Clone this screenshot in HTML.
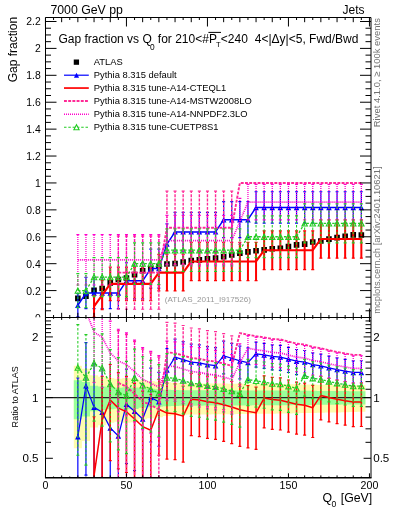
<!DOCTYPE html><html><head><meta charset="utf-8"><style>html,body{margin:0;padding:0;background:#fff;}svg{display:block;will-change:transform;} text{font-family:"Liberation Sans",sans-serif;}</style></head><body>
<svg width="393" height="512" viewBox="0 0 393 512">
<rect width="393" height="512" fill="#fff"/>
<defs><clipPath id="ct"><rect x="45.5" y="17.5" width="325.5" height="300"/></clipPath>
<clipPath id="cb"><rect x="45.5" y="317.5" width="325.5" height="160.3"/></clipPath></defs>
<g clip-path="url(#ct)">
<path d="M75.05 295.59h5.6v5.6h-5.6ZM83.15 293.31h5.6v5.6h-5.6ZM91.25 287.39h5.6v5.6h-5.6ZM99.35 285.77h5.6v5.6h-5.6ZM107.45 280.12h5.6v5.6h-5.6ZM115.55 276.76h5.6v5.6h-5.6ZM123.65 275.14h5.6v5.6h-5.6ZM131.75 271.78h5.6v5.6h-5.6ZM139.85 267.88h5.6v5.6h-5.6ZM147.95 265.86h5.6v5.6h-5.6ZM156.05 263.44h5.6v5.6h-5.6ZM164.15 261.15h5.6v5.6h-5.6ZM172.25 260.75h5.6v5.6h-5.6ZM180.35 259.27h5.6v5.6h-5.6ZM188.45 257.65h5.6v5.6h-5.6ZM196.55 257.11h5.6v5.6h-5.6ZM204.65 255.9h5.6v5.6h-5.6ZM212.75 255.23h5.6v5.6h-5.6ZM220.85 253.88h5.6v5.6h-5.6ZM228.95 252.27h5.6v5.6h-5.6ZM237.05 250.32h5.6v5.6h-5.6ZM245.15 249.08h5.6v5.6h-5.6ZM253.25 247.96h5.6v5.6h-5.6ZM261.35 247.06h5.6v5.6h-5.6ZM269.45 245.88h5.6v5.6h-5.6ZM277.55 245.43h5.6v5.6h-5.6ZM285.65 243.79h5.6v5.6h-5.6ZM293.75 242.1h5.6v5.6h-5.6ZM301.85 241.28h5.6v5.6h-5.6ZM309.95 239.22h5.6v5.6h-5.6ZM318.05 238.14h5.6v5.6h-5.6ZM326.15 236.32h5.6v5.6h-5.6ZM334.25 234.78h5.6v5.6h-5.6ZM342.35 233.43h5.6v5.6h-5.6ZM350.45 232.06h5.6v5.6h-5.6ZM358.55 232.14h5.6v5.6h-5.6Z" fill="#000"/>
<path d="M77.85 316.93V293.61M85.95 308.68V277.39M94.05 308.68V277.39M102.15 308.68V277.39M110.25 308.68V277.39M118.35 308.68V277.39M126.45 298.87V262.74M134.55 298.87V262.74M142.65 298.87V262.74M150.75 288.09V249.06M158.85 288.09V249.06M166.95 264.31V223.91M175.05 251.39V212.36M183.15 251.39V212.36M191.25 251.39V212.36M199.35 251.39V212.36M207.45 251.39V212.36M215.55 251.39V212.36M223.65 237.71V201.58M231.75 237.71V201.58M239.85 237.71V201.58M247.95 237.71V201.58M256.05 223.06V191.77M264.15 223.06V191.77M272.25 223.06V191.77M280.35 223.06V191.77M288.45 223.06V191.77M296.55 223.06V191.77M304.65 223.06V191.77M312.75 223.06V191.77M320.85 223.06V191.77M328.95 223.06V191.77M337.05 223.06V191.77M345.15 223.06V191.77M353.25 223.06V191.77M361.35 223.06V191.77" stroke="#0000ff" stroke-width="1.2" fill="none"/>
<path d="M76.35 316.93H79.35M76.35 293.61H79.35M84.45 308.68H87.45M84.45 277.39H87.45M92.55 308.68H95.55M92.55 277.39H95.55M100.65 308.68H103.65M100.65 277.39H103.65M108.75 308.68H111.75M108.75 277.39H111.75M116.85 308.68H119.85M116.85 277.39H119.85M124.95 298.87H127.95M124.95 262.74H127.95M133.05 298.87H136.05M133.05 262.74H136.05M141.15 298.87H144.15M141.15 262.74H144.15M149.25 288.09H152.25M149.25 249.06H152.25M157.35 288.09H160.35M157.35 249.06H160.35M165.45 264.31H168.45M165.45 223.91H168.45M173.55 251.39H176.55M173.55 212.36H176.55M181.65 251.39H184.65M181.65 212.36H184.65M189.75 251.39H192.75M189.75 212.36H192.75M197.85 251.39H200.85M197.85 212.36H200.85M205.95 251.39H208.95M205.95 212.36H208.95M214.05 251.39H217.05M214.05 212.36H217.05M222.15 237.71H225.15M222.15 201.58H225.15M230.25 237.71H233.25M230.25 201.58H233.25M238.35 237.71H241.35M238.35 201.58H241.35M246.45 237.71H249.45M246.45 201.58H249.45M254.55 223.06H257.55M254.55 191.77H257.55M262.65 223.06H265.65M262.65 191.77H265.65M270.75 223.06H273.75M270.75 191.77H273.75M278.85 223.06H281.85M278.85 191.77H281.85M286.95 223.06H289.95M286.95 191.77H289.95M295.05 223.06H298.05M295.05 191.77H298.05M303.15 223.06H306.15M303.15 191.77H306.15M311.25 223.06H314.25M311.25 191.77H314.25M319.35 223.06H322.35M319.35 191.77H322.35M327.45 223.06H330.45M327.45 191.77H330.45M335.55 223.06H338.55M335.55 191.77H338.55M343.65 223.06H346.65M343.65 191.77H346.65M351.75 223.06H354.75M351.75 191.77H354.75M359.85 223.06H362.85M359.85 191.77H362.85" stroke="#0000ff" stroke-width="1.2" fill="none"/>
<path d="M77.85 305.27L85.95 293.04L94.05 293.04L102.15 293.04L110.25 293.04L118.35 293.04L126.45 280.8L134.55 280.8L142.65 280.8L150.75 268.57L158.85 268.57L166.95 244.11L175.05 231.88L183.15 231.88L191.25 231.88L199.35 231.88L207.45 231.88L215.55 231.88L223.65 219.65L231.75 219.65L239.85 219.65L247.95 219.65L256.05 207.41L264.15 207.41L272.25 207.41L280.35 207.41L288.45 207.41L296.55 207.41L304.65 207.41L312.75 207.41L320.85 207.41L328.95 207.41L337.05 207.41L345.15 207.41L353.25 207.41L361.35 207.41" stroke="#0000ff" stroke-width="1.5" fill="none" stroke-linejoin="round"/>
<path d="M75.05 308L80.65 308L77.85 302.54ZM83.15 295.77L88.75 295.77L85.95 290.31ZM91.25 295.77L96.85 295.77L94.05 290.31ZM99.35 295.77L104.95 295.77L102.15 290.31ZM107.45 295.77L113.05 295.77L110.25 290.31ZM115.55 295.77L121.15 295.77L118.35 290.31ZM123.65 283.53L129.25 283.53L126.45 278.07ZM131.75 283.53L137.35 283.53L134.55 278.07ZM139.85 283.53L145.45 283.53L142.65 278.07ZM147.95 271.3L153.55 271.3L150.75 265.84ZM156.05 271.3L161.65 271.3L158.85 265.84ZM164.15 246.84L169.75 246.84L166.95 241.38ZM172.25 234.61L177.85 234.61L175.05 229.15ZM180.35 234.61L185.95 234.61L183.15 229.15ZM188.45 234.61L194.05 234.61L191.25 229.15ZM196.55 234.61L202.15 234.61L199.35 229.15ZM204.65 234.61L210.25 234.61L207.45 229.15ZM212.75 234.61L218.35 234.61L215.55 229.15ZM220.85 222.38L226.45 222.38L223.65 216.92ZM228.95 222.38L234.55 222.38L231.75 216.92ZM237.05 222.38L242.65 222.38L239.85 216.92ZM245.15 222.38L250.75 222.38L247.95 216.92ZM253.25 210.14L258.85 210.14L256.05 204.68ZM261.35 210.14L266.95 210.14L264.15 204.68ZM269.45 210.14L275.05 210.14L272.25 204.68ZM277.55 210.14L283.15 210.14L280.35 204.68ZM285.65 210.14L291.25 210.14L288.45 204.68ZM293.75 210.14L299.35 210.14L296.55 204.68ZM301.85 210.14L307.45 210.14L304.65 204.68ZM309.95 210.14L315.55 210.14L312.75 204.68ZM318.05 210.14L323.65 210.14L320.85 204.68ZM326.15 210.14L331.75 210.14L328.95 204.68ZM334.25 210.14L339.85 210.14L337.05 204.68ZM342.35 210.14L347.95 210.14L345.15 204.68ZM350.45 210.14L356.05 210.14L353.25 204.68ZM358.55 210.14L364.15 210.14L361.35 204.68Z" fill="#0000ff"/>
<path d="M94.05 317.02V295.55M102.15 309.55V280.6M110.25 300.68V267.04M118.35 300.68V267.04M126.45 300.68V267.04M134.55 300.68V267.04M142.65 300.68V267.04M150.75 300.68V267.04M158.85 290.96V254.34M166.95 290.96V254.34M175.05 290.96V254.34M183.15 290.96V254.34M191.25 280.59V242.29M199.35 280.59V242.29M207.45 280.59V242.29M215.55 280.59V242.29M223.65 280.59V242.29M231.75 280.59V242.29M239.85 280.59V242.29M247.95 280.59V242.29M256.05 280.59V242.29M264.15 269.65V230.8M272.25 269.65V230.8M280.35 269.65V230.8M288.45 269.65V230.8M296.55 269.65V230.8M304.65 269.65V230.8M312.75 269.65V230.8M320.85 258.16V219.86M328.95 258.16V219.86M337.05 258.16V219.86M345.15 258.16V219.86M353.25 258.16V219.86M361.35 258.16V219.86" stroke="#ff0000" stroke-width="2.0" fill="none"/>
<path d="M92.55 317.02H95.55M92.55 295.55H95.55M100.65 309.55H103.65M100.65 280.6H103.65M108.75 300.68H111.75M108.75 267.04H111.75M116.85 300.68H119.85M116.85 267.04H119.85M124.95 300.68H127.95M124.95 267.04H127.95M133.05 300.68H136.05M133.05 267.04H136.05M141.15 300.68H144.15M141.15 267.04H144.15M149.25 300.68H152.25M149.25 267.04H152.25M157.35 290.96H160.35M157.35 254.34H160.35M165.45 290.96H168.45M165.45 254.34H168.45M173.55 290.96H176.55M173.55 254.34H176.55M181.65 290.96H184.65M181.65 254.34H184.65M189.75 280.59H192.75M189.75 242.29H192.75M197.85 280.59H200.85M197.85 242.29H200.85M205.95 280.59H208.95M205.95 242.29H208.95M214.05 280.59H217.05M214.05 242.29H217.05M222.15 280.59H225.15M222.15 242.29H225.15M230.25 280.59H233.25M230.25 242.29H233.25M238.35 280.59H241.35M238.35 242.29H241.35M246.45 280.59H249.45M246.45 242.29H249.45M254.55 280.59H257.55M254.55 242.29H257.55M262.65 269.65H265.65M262.65 230.8H265.65M270.75 269.65H273.75M270.75 230.8H273.75M278.85 269.65H281.85M278.85 230.8H281.85M286.95 269.65H289.95M286.95 230.8H289.95M295.05 269.65H298.05M295.05 230.8H298.05M303.15 269.65H306.15M303.15 230.8H306.15M311.25 269.65H314.25M311.25 230.8H314.25M319.35 258.16H322.35M319.35 219.86H322.35M327.45 258.16H330.45M327.45 219.86H330.45M335.55 258.16H338.55M335.55 219.86H338.55M343.65 258.16H346.65M343.65 219.86H346.65M351.75 258.16H354.75M351.75 219.86H354.75M359.85 258.16H362.85M359.85 219.86H362.85" stroke="#ff0000" stroke-width="1.2" fill="none"/>
<path d="M94.05 306.29L102.15 295.07L110.25 283.86L118.35 283.86L126.45 283.86L134.55 283.86L142.65 283.86L150.75 283.86L158.85 272.65L166.95 272.65L175.05 272.65L183.15 272.65L191.25 261.44L199.35 261.44L207.45 261.44L215.55 261.44L223.65 261.44L231.75 261.44L239.85 261.44L247.95 261.44L256.05 261.44L264.15 250.22L272.25 250.22L280.35 250.22L288.45 250.22L296.55 250.22L304.65 250.22L312.75 250.22L320.85 239.01L328.95 239.01L337.05 239.01L345.15 239.01L353.25 239.01L361.35 239.01" stroke="#ff0000" stroke-width="2.1" fill="none" stroke-linejoin="round"/>
<path d="M118.35 309.27V236.03M126.45 309.27V236.03M134.55 309.27V236.03M142.65 309.27V236.03M150.75 309.27V236.03M158.85 309.27V236.03M166.95 264.42V191.18M175.05 264.42V191.18M183.15 264.42V191.18M191.25 264.42V191.18M199.35 264.42V191.18M207.45 264.42V191.18M215.55 264.42V191.18M223.65 264.42V191.18M231.75 264.42V191.18" stroke="#ff2a96" stroke-width="1.4" fill="none" stroke-dasharray="2.9,1.3"/>
<path d="M116.85 309.27H119.85M116.85 236.03H119.85M124.95 309.27H127.95M124.95 236.03H127.95M133.05 309.27H136.05M133.05 236.03H136.05M141.15 309.27H144.15M141.15 236.03H144.15M149.25 309.27H152.25M149.25 236.03H152.25M157.35 309.27H160.35M157.35 236.03H160.35M165.45 264.42H168.45M165.45 191.18H168.45M173.55 264.42H176.55M173.55 191.18H176.55M181.65 264.42H184.65M181.65 191.18H184.65M189.75 264.42H192.75M189.75 191.18H192.75M197.85 264.42H200.85M197.85 191.18H200.85M205.95 264.42H208.95M205.95 191.18H208.95M214.05 264.42H217.05M214.05 191.18H217.05M222.15 264.42H225.15M222.15 191.18H225.15M230.25 264.42H233.25M230.25 191.18H233.25" stroke="#ff2a96" stroke-width="1.2" fill="none"/>
<path d="M118.35 272.65L126.45 272.65L134.55 272.65L142.65 272.65L150.75 272.65L158.85 272.65L166.95 227.8L175.05 227.8L183.15 227.8L191.25 227.8L199.35 227.8L207.45 227.8L215.55 227.8L223.65 227.8L231.75 227.8L239.85 182.95L247.95 182.95L256.05 182.95L264.15 182.95L272.25 182.95L280.35 182.95L288.45 182.95L296.55 182.95L304.65 182.95L312.75 182.95L320.85 182.95L328.95 182.95L337.05 182.95L345.15 182.95L353.25 182.95L361.35 182.95" stroke="#ff2a96" stroke-width="1.9" fill="none" stroke-linejoin="round" stroke-dasharray="2.9,1.3"/>
<path d="M77.85 235V285M85.95 235V285M94.05 235V285M102.15 235V285M110.25 235V285M118.35 235V285M126.45 235V285M134.55 235V285M142.65 235V285M150.75 235V285M158.85 235V285M166.95 215V265.78M175.05 215V265.78M183.15 215V265.78M191.25 215V265.78M199.35 215V265.78M207.45 215V265.78M215.55 215V265.78M223.65 215V265.78M231.75 215V265.78M239.85 198V244.37M247.95 184V219.97M256.05 184V219.97M264.15 184V219.97M272.25 184V219.97M280.35 184V219.97M288.45 184V219.97M296.55 184V219.97M304.65 184V219.97M312.75 184V219.97M320.85 184V219.97M328.95 184V219.97M337.05 184V219.97M345.15 184V219.97M353.25 184V219.97M361.35 184V219.97" stroke="#ff00cc" stroke-width="1.3" fill="none" stroke-dasharray="1,1"/>
<path d="M76.35 285H79.35M76.35 234.67H79.35M84.45 285H87.45M84.45 234.67H87.45M92.55 285H95.55M92.55 234.67H95.55M100.65 285H103.65M100.65 234.67H103.65M108.75 285H111.75M108.75 234.67H111.75M116.85 285H119.85M116.85 234.67H119.85M124.95 285H127.95M124.95 234.67H127.95M133.05 285H136.05M133.05 234.67H136.05M141.15 285H144.15M141.15 234.67H144.15M149.25 285H152.25M149.25 234.67H152.25M157.35 285H160.35M157.35 234.67H160.35M165.45 265.78H168.45M165.45 215.45H168.45M173.55 265.78H176.55M173.55 215.45H176.55M181.65 265.78H184.65M181.65 215.45H184.65M189.75 265.78H192.75M189.75 215.45H192.75M197.85 265.78H200.85M197.85 215.45H200.85M205.95 265.78H208.95M205.95 215.45H208.95M214.05 265.78H217.05M214.05 215.45H217.05M222.15 265.78H225.15M222.15 215.45H225.15M230.25 265.78H233.25M230.25 215.45H233.25M238.35 244.37H241.35M238.35 198.42H241.35M246.45 219.97H249.45M246.45 184.38H249.45M254.55 219.97H257.55M254.55 184.38H257.55M262.65 219.97H265.65M262.65 184.38H265.65M270.75 219.97H273.75M270.75 184.38H273.75M278.85 219.97H281.85M278.85 184.38H281.85M286.95 219.97H289.95M286.95 184.38H289.95M295.05 219.97H298.05M295.05 184.38H298.05M303.15 219.97H306.15M303.15 184.38H306.15M311.25 219.97H314.25M311.25 184.38H314.25M319.35 219.97H322.35M319.35 184.38H322.35M327.45 219.97H330.45M327.45 184.38H330.45M335.55 219.97H338.55M335.55 184.38H338.55M343.65 219.97H346.65M343.65 184.38H346.65M351.75 219.97H354.75M351.75 184.38H354.75M359.85 219.97H362.85M359.85 184.38H362.85" stroke="#ff00cc" stroke-width="1.2" fill="none"/>
<path d="M77.85 259.84L85.95 259.84L94.05 259.84L102.15 259.84L110.25 259.84L118.35 259.84L126.45 259.84L134.55 259.84L142.65 259.84L150.75 259.84L158.85 259.84L166.95 240.61L175.05 240.61L183.15 240.61L191.25 240.61L199.35 240.61L207.45 240.61L215.55 240.61L223.65 240.61L231.75 240.61L239.85 221.39L247.95 202.17L256.05 202.17L264.15 202.17L272.25 202.17L280.35 202.17L288.45 202.17L296.55 202.17L304.65 202.17L312.75 202.17L320.85 202.17L328.95 202.17L337.05 202.17L345.15 202.17L353.25 202.17L361.35 202.17" stroke="#ff00cc" stroke-width="1.7" fill="none" stroke-linejoin="round" stroke-dasharray="1,1"/>
<path d="M77.85 307.61V273.57M85.95 307.61V273.57M94.05 296.63V257.64M102.15 296.63V257.64M110.25 296.63V257.64M118.35 296.63V257.64M126.45 296.63V257.64M134.55 284.52V242.84M142.65 284.52V242.84M150.75 284.52V242.84M158.85 284.52V242.84M166.95 271.5V228.95M175.05 271.5V228.95M183.15 271.5V228.95M191.25 271.5V228.95M199.35 271.5V228.95M207.45 271.5V228.95M215.55 271.5V228.95M223.65 271.5V228.95M231.75 271.5V228.95M239.85 271.5V228.95M247.95 257.61V215.93M256.05 257.61V215.93M264.15 257.61V215.93M272.25 257.61V215.93M280.35 257.61V215.93M288.45 257.61V215.93M296.55 257.61V215.93M304.65 242.81V203.82M312.75 242.81V203.82M320.85 242.81V203.82M328.95 242.81V203.82M337.05 242.81V203.82M345.15 242.81V203.82M353.25 242.81V203.82M361.35 242.81V203.82" stroke="#22cc22" stroke-width="1.05" fill="none" stroke-dasharray="2.5,1.8"/>
<path d="M76.35 307.61H79.35M76.35 273.57H79.35M84.45 307.61H87.45M84.45 273.57H87.45M92.55 296.63H95.55M92.55 257.64H95.55M100.65 296.63H103.65M100.65 257.64H103.65M108.75 296.63H111.75M108.75 257.64H111.75M116.85 296.63H119.85M116.85 257.64H119.85M124.95 296.63H127.95M124.95 257.64H127.95M133.05 284.52H136.05M133.05 242.84H136.05M141.15 284.52H144.15M141.15 242.84H144.15M149.25 284.52H152.25M149.25 242.84H152.25M157.35 284.52H160.35M157.35 242.84H160.35M165.45 271.5H168.45M165.45 228.95H168.45M173.55 271.5H176.55M173.55 228.95H176.55M181.65 271.5H184.65M181.65 228.95H184.65M189.75 271.5H192.75M189.75 228.95H192.75M197.85 271.5H200.85M197.85 228.95H200.85M205.95 271.5H208.95M205.95 228.95H208.95M214.05 271.5H217.05M214.05 228.95H217.05M222.15 271.5H225.15M222.15 228.95H225.15M230.25 271.5H233.25M230.25 228.95H233.25M238.35 271.5H241.35M238.35 228.95H241.35M246.45 257.61H249.45M246.45 215.93H249.45M254.55 257.61H257.55M254.55 215.93H257.55M262.65 257.61H265.65M262.65 215.93H265.65M270.75 257.61H273.75M270.75 215.93H273.75M278.85 257.61H281.85M278.85 215.93H281.85M286.95 257.61H289.95M286.95 215.93H289.95M295.05 257.61H298.05M295.05 215.93H298.05M303.15 242.81H306.15M303.15 203.82H306.15M311.25 242.81H314.25M311.25 203.82H314.25M319.35 242.81H322.35M319.35 203.82H322.35M327.45 242.81H330.45M327.45 203.82H330.45M335.55 242.81H338.55M335.55 203.82H338.55M343.65 242.81H346.65M343.65 203.82H346.65M351.75 242.81H354.75M351.75 203.82H354.75M359.85 242.81H362.85M359.85 203.82H362.85" stroke="#22cc22" stroke-width="1.2" fill="none"/>
<path d="M77.85 290.59L85.95 290.59L94.05 277.13L102.15 277.13L110.25 277.13L118.35 277.13L126.45 277.13L134.55 263.68L142.65 263.68L150.75 263.68L158.85 263.68L166.95 250.22L175.05 250.22L183.15 250.22L191.25 250.22L199.35 250.22L207.45 250.22L215.55 250.22L223.65 250.22L231.75 250.22L239.85 250.22L247.95 236.77L256.05 236.77L264.15 236.77L272.25 236.77L280.35 236.77L288.45 236.77L296.55 236.77L304.65 223.31L312.75 223.31L320.85 223.31L328.95 223.31L337.05 223.31L345.15 223.31L353.25 223.31L361.35 223.31" stroke="#22cc22" stroke-width="1.3" fill="none" stroke-linejoin="round" stroke-dasharray="2.5,1.8"/>
<path d="M75.15 293.22L80.55 293.22L77.85 287.96ZM83.25 293.22L88.65 293.22L85.95 287.96ZM91.35 279.77L96.75 279.77L94.05 274.5ZM99.45 279.77L104.85 279.77L102.15 274.5ZM107.55 279.77L112.95 279.77L110.25 274.5ZM115.65 279.77L121.05 279.77L118.35 274.5ZM123.75 279.77L129.15 279.77L126.45 274.5ZM131.85 266.31L137.25 266.31L134.55 261.05ZM139.95 266.31L145.35 266.31L142.65 261.05ZM148.05 266.31L153.45 266.31L150.75 261.05ZM156.15 266.31L161.55 266.31L158.85 261.05ZM164.25 252.86L169.65 252.86L166.95 247.59ZM172.35 252.86L177.75 252.86L175.05 247.59ZM180.45 252.86L185.85 252.86L183.15 247.59ZM188.55 252.86L193.95 252.86L191.25 247.59ZM196.65 252.86L202.05 252.86L199.35 247.59ZM204.75 252.86L210.15 252.86L207.45 247.59ZM212.85 252.86L218.25 252.86L215.55 247.59ZM220.95 252.86L226.35 252.86L223.65 247.59ZM229.05 252.86L234.45 252.86L231.75 247.59ZM237.15 252.86L242.55 252.86L239.85 247.59ZM245.25 239.4L250.65 239.4L247.95 234.14ZM253.35 239.4L258.75 239.4L256.05 234.14ZM261.45 239.4L266.85 239.4L264.15 234.14ZM269.55 239.4L274.95 239.4L272.25 234.14ZM277.65 239.4L283.05 239.4L280.35 234.14ZM285.75 239.4L291.15 239.4L288.45 234.14ZM293.85 239.4L299.25 239.4L296.55 234.14ZM301.95 225.95L307.35 225.95L304.65 220.68ZM310.05 225.95L315.45 225.95L312.75 220.68ZM318.15 225.95L323.55 225.95L320.85 220.68ZM326.25 225.95L331.65 225.95L328.95 220.68ZM334.35 225.95L339.75 225.95L337.05 220.68ZM342.45 225.95L347.85 225.95L345.15 220.68ZM350.55 225.95L355.95 225.95L353.25 220.68ZM358.65 225.95L364.05 225.95L361.35 220.68Z" fill="none" stroke="#22cc22" stroke-width="1.1"/>
</g>
<text x="40.7" y="321.5" font-size="10.4" text-anchor="end" fill="#000">0</text>
<text x="40.7" y="294.59" font-size="10.4" text-anchor="end" fill="#000">0.2</text>
<text x="40.7" y="267.68" font-size="10.4" text-anchor="end" fill="#000">0.4</text>
<text x="40.7" y="240.77" font-size="10.4" text-anchor="end" fill="#000">0.6</text>
<text x="40.7" y="213.86" font-size="10.4" text-anchor="end" fill="#000">0.8</text>
<text x="40.7" y="186.95" font-size="10.4" text-anchor="end" fill="#000">1</text>
<text x="40.7" y="160.04" font-size="10.4" text-anchor="end" fill="#000">1.2</text>
<text x="40.7" y="133.13" font-size="10.4" text-anchor="end" fill="#000">1.4</text>
<text x="40.7" y="106.22" font-size="10.4" text-anchor="end" fill="#000">1.6</text>
<text x="40.7" y="79.31" font-size="10.4" text-anchor="end" fill="#000">1.8</text>
<text x="40.7" y="52.4" font-size="10.4" text-anchor="end" fill="#000">2</text>
<text x="40.7" y="25.49" font-size="10.4" text-anchor="end" fill="#000">2.2</text>
<rect x="0" y="317.3" width="393" height="195" fill="#fff"/>
<g clip-path="url(#cb)">
<path d="M73.8 365.67L73.8 365.67L81.9 365.67L81.9 368.77L90 368.77L90 375.31L98.1 375.31L98.1 376.67L106.2 376.67L106.2 378.06L114.3 378.06L114.3 378.77L122.4 378.77L122.4 378.06L130.5 378.06L130.5 378.41L138.6 378.41L138.6 380.19L146.7 380.19L146.7 380.91L154.8 380.91L154.8 381.64L162.9 381.64L162.9 382.37L171 382.37L171 382.85L179.1 382.85L179.1 383.33L187.2 383.33L187.2 383.38L195.3 383.38L195.3 383.43L203.4 383.43L203.4 383.48L211.5 383.48L211.5 383.55L219.6 383.55L219.6 383.61L227.7 383.61L227.7 383.68L235.8 383.68L235.8 383.75L243.9 383.75L243.9 383.82L252 383.82L252 383.88L260.1 383.88L260.1 383.95L268.2 383.95L268.2 384.02L276.3 384.02L276.3 384.09L284.4 384.09L284.4 384.15L292.5 384.15L292.5 384.29L300.6 384.29L300.6 384.42L308.7 384.42L308.7 384.55L316.8 384.55L316.8 384.69L324.9 384.69L324.9 384.82L333 384.82L333 384.96L341.1 384.96L341.1 385.09L349.2 385.09L349.2 385.23L357.3 385.23L357.3 385.36L365.4 385.36L365.4 411.83L357.3 411.83L357.3 412.01L349.2 412.01L349.2 412.2L341.1 412.2L341.1 412.38L333 412.38L333 412.56L324.9 412.56L324.9 412.75L316.8 412.75L316.8 412.93L308.7 412.93L308.7 413.12L300.6 413.12L300.6 413.31L292.5 413.31L292.5 413.49L284.4 413.49L284.4 413.59L276.3 413.59L276.3 413.68L268.2 413.68L268.2 413.78L260.1 413.78L260.1 413.87L252 413.87L252 413.97L243.9 413.97L243.9 414.06L235.8 414.06L235.8 414.16L227.7 414.16L227.7 414.25L219.6 414.25L219.6 414.35L211.5 414.35L211.5 414.44L203.4 414.44L203.4 414.51L195.3 414.51L195.3 414.58L187.2 414.58L187.2 414.66L179.1 414.66L179.1 415.35L171 415.35L171 416.05L162.9 416.05L162.9 417.14L154.8 417.14L154.8 418.24L146.7 418.24L146.7 419.35L138.6 419.35L138.6 422.21L130.5 422.21L130.5 422.79L122.4 422.79L122.4 421.63L114.3 421.63L114.3 422.79L106.2 422.79L106.2 425.15L98.1 425.15L98.1 427.59L90 427.59L90 440.88L81.9 440.88L81.9 448.37L73.8 448.37Z" fill="#fdfcae" stroke="none"/>
<path d="M73.8 380.19L73.8 380.19L81.9 380.19L81.9 382L90 382L90 385.74L98.1 385.74L98.1 386.51L106.2 386.51L106.2 387.29L114.3 387.29L114.3 387.68L122.4 387.68L122.4 387.29L130.5 387.29L130.5 387.48L138.6 387.48L138.6 388.46L146.7 388.46L146.7 388.86L154.8 388.86L154.8 389.26L162.9 389.26L162.9 389.65L171 389.65L171 389.91L179.1 389.91L179.1 390.18L187.2 390.18L187.2 390.2L195.3 390.2L195.3 390.23L203.4 390.23L203.4 390.26L211.5 390.26L211.5 390.29L219.6 390.29L219.6 390.33L227.7 390.33L227.7 390.36L235.8 390.36L235.8 390.4L243.9 390.4L243.9 390.44L252 390.44L252 390.47L260.1 390.47L260.1 390.51L268.2 390.51L268.2 390.55L276.3 390.55L276.3 390.58L284.4 390.58L284.4 390.62L292.5 390.62L292.5 390.69L300.6 390.69L300.6 390.76L308.7 390.76L308.7 390.83L316.8 390.83L316.8 390.91L324.9 390.91L324.9 390.98L333 390.98L333 391.05L341.1 391.05L341.1 391.12L349.2 391.12L349.2 391.2L357.3 391.2L357.3 391.27L365.4 391.27L365.4 404.43L357.3 404.43L357.3 404.51L349.2 404.51L349.2 404.59L341.1 404.59L341.1 404.68L333 404.68L333 404.76L324.9 404.76L324.9 404.85L316.8 404.85L316.8 404.93L308.7 404.93L308.7 405.02L300.6 405.02L300.6 405.1L292.5 405.1L292.5 405.19L284.4 405.19L284.4 405.23L276.3 405.23L276.3 405.27L268.2 405.27L268.2 405.32L260.1 405.32L260.1 405.36L252 405.36L252 405.4L243.9 405.4L243.9 405.44L235.8 405.44L235.8 405.49L227.7 405.49L227.7 405.53L219.6 405.53L219.6 405.57L211.5 405.57L211.5 405.62L203.4 405.62L203.4 405.65L195.3 405.65L195.3 405.68L187.2 405.68L187.2 405.71L179.1 405.71L179.1 406.03L171 406.03L171 406.34L162.9 406.34L162.9 406.82L154.8 406.82L154.8 407.31L146.7 407.31L146.7 407.8L138.6 407.8L138.6 409.04L130.5 409.04L130.5 409.29L122.4 409.29L122.4 408.79L114.3 408.79L114.3 409.29L106.2 409.29L106.2 410.3L98.1 410.3L98.1 411.32L90 411.32L90 416.59L81.9 416.59L81.9 419.35L73.8 419.35Z" fill="#99ff99" stroke="none"/>
<path d="M45.5 397.6H371" stroke="#222" stroke-width="1.2"/>
<path d="M77.85 705.22V378.02M85.95 475.21V342.57M94.05 496.6V363.96M102.15 501.63V368.99M110.25 517.25V384.61M118.35 525.38V392.74M126.45 463.54V369.12M134.55 470.68V376.27M142.65 478.3V383.89M150.75 442.01V368.06M158.85 446.24V372.3M166.95 398.19V348.72M175.05 379.81V339.19M183.15 382.18V341.56M191.25 384.7V344.07M199.35 385.52V344.9M207.45 387.34V346.72M215.55 388.34V347.71M223.65 373.83V341.12M231.75 376.12V343.42M239.85 378.82V346.11M247.95 380.49V347.78M256.05 367.2V342.14M264.15 368.38V343.32M272.25 369.9V344.84M280.35 370.46V345.4M288.45 372.51V347.45M296.55 374.58V349.52M304.65 375.56V350.5M312.75 377.98V352.92M320.85 379.22V354.16M328.95 381.28V356.22M337.05 382.99V357.93M345.15 384.45V359.39M353.25 385.92V360.86M361.35 385.83V360.77" stroke="#0000ff" stroke-width="1.2" fill="none"/>
<path d="M76.35 705.22H79.35M76.35 378.02H79.35M84.45 475.21H87.45M84.45 342.57H87.45M92.55 496.6H95.55M92.55 363.96H95.55M100.65 501.63H103.65M100.65 368.99H103.65M108.75 517.25H111.75M108.75 384.61H111.75M116.85 525.38H119.85M116.85 392.74H119.85M124.95 463.54H127.95M124.95 369.12H127.95M133.05 470.68H136.05M133.05 376.27H136.05M141.15 478.3H144.15M141.15 383.89H144.15M149.25 442.01H152.25M149.25 368.06H152.25M157.35 446.24H160.35M157.35 372.3H160.35M165.45 398.19H168.45M165.45 348.72H168.45M173.55 379.81H176.55M173.55 339.19H176.55M181.65 382.18H184.65M181.65 341.56H184.65M189.75 384.7H192.75M189.75 344.07H192.75M197.85 385.52H200.85M197.85 344.9H200.85M205.95 387.34H208.95M205.95 346.72H208.95M214.05 388.34H217.05M214.05 347.71H217.05M222.15 373.83H225.15M222.15 341.12H225.15M230.25 376.12H233.25M230.25 343.42H233.25M238.35 378.82H241.35M238.35 346.11H241.35M246.45 380.49H249.45M246.45 347.78H249.45M254.55 367.2H257.55M254.55 342.14H257.55M262.65 368.38H265.65M262.65 343.32H265.65M270.75 369.9H273.75M270.75 344.84H273.75M278.85 370.46H281.85M278.85 345.4H281.85M286.95 372.51H289.95M286.95 347.45H289.95M295.05 374.58H298.05M295.05 349.52H298.05M303.15 375.56H306.15M303.15 350.5H306.15M311.25 377.98H314.25M311.25 352.92H314.25M319.35 379.22H322.35M319.35 354.16H322.35M327.45 381.28H330.45M327.45 356.22H330.45M335.55 382.99H338.55M335.55 357.93H338.55M343.65 384.45H346.65M343.65 359.39H346.65M351.75 385.92H354.75M351.75 360.86H354.75M359.85 385.83H362.85M359.85 360.77H362.85" stroke="#0000ff" stroke-width="1.2" fill="none"/>
<path d="M77.85 436.65L85.95 385.86L94.05 407.25L102.15 412.28L110.25 427.9L118.35 436.03L126.45 404.18L134.55 411.32L142.65 418.94L150.75 397.45L158.85 401.68L166.95 370.01L175.05 357.17L183.15 359.54L191.25 362.05L199.35 362.87L207.45 364.69L215.55 365.69L223.65 355.96L231.75 358.25L239.85 360.95L247.95 362.61L256.05 353.78L264.15 354.95L272.25 356.47L280.35 357.04L288.45 359.09L296.55 361.16L304.65 362.14L312.75 364.56L320.85 365.8L328.95 367.85L337.05 369.56L345.15 371.03L353.25 372.49L361.35 372.41" stroke="#0000ff" stroke-width="1.25" fill="none" stroke-linejoin="round"/>
<path d="M75.05 439.38L80.65 439.38L77.85 433.92ZM83.15 388.59L88.75 388.59L85.95 383.13ZM91.25 409.98L96.85 409.98L94.05 404.52ZM99.35 415.01L104.95 415.01L102.15 409.55ZM107.45 430.63L113.05 430.63L110.25 425.17ZM115.55 438.76L121.15 438.76L118.35 433.3ZM123.65 406.91L129.25 406.91L126.45 401.45ZM131.75 414.05L137.35 414.05L134.55 408.59ZM139.85 421.67L145.45 421.67L142.65 416.21ZM147.95 400.18L153.55 400.18L150.75 394.72ZM156.05 404.41L161.65 404.41L158.85 398.95ZM164.15 372.74L169.75 372.74L166.95 367.28ZM172.25 359.9L177.85 359.9L175.05 354.44ZM180.35 362.27L185.95 362.27L183.15 356.81ZM188.45 364.78L194.05 364.78L191.25 359.32ZM196.55 365.6L202.15 365.6L199.35 360.14ZM204.65 367.42L210.25 367.42L207.45 361.96ZM212.75 368.42L218.35 368.42L215.55 362.96ZM220.85 358.69L226.45 358.69L223.65 353.23ZM228.95 360.98L234.55 360.98L231.75 355.52ZM237.05 363.68L242.65 363.68L239.85 358.22ZM245.15 365.34L250.75 365.34L247.95 359.88ZM253.25 356.51L258.85 356.51L256.05 351.05ZM261.35 357.68L266.95 357.68L264.15 352.22ZM269.45 359.2L275.05 359.2L272.25 353.74ZM277.55 359.77L283.15 359.77L280.35 354.31ZM285.65 361.82L291.25 361.82L288.45 356.36ZM293.75 363.89L299.35 363.89L296.55 358.43ZM301.85 364.87L307.45 364.87L304.65 359.41ZM309.95 367.29L315.55 367.29L312.75 361.83ZM318.05 368.53L323.65 368.53L320.85 363.07ZM326.15 370.58L331.75 370.58L328.95 365.12ZM334.25 372.29L339.85 372.29L337.05 366.83ZM342.35 373.76L347.95 373.76L345.15 368.3ZM350.45 375.22L356.05 375.22L353.25 369.76ZM358.55 375.14L364.15 375.14L361.35 369.68Z" fill="#0000ff"/>
<path d="M94.05 751.92V416.75M102.15 510.69V376.29M110.25 460.71V364.52M118.35 468.83V372.65M126.45 472.48V376.29M134.55 479.63V383.44M142.65 487.25V391.06M150.75 490.94V394.75M158.85 455.24V379.33M166.95 459.06V383.15M175.05 459.72V383.81M183.15 462.09V386.18M191.25 435.72V373.4M199.35 436.54V374.22M207.45 438.36V376.05M215.55 439.36V377.04M223.65 441.31V379M231.75 443.61V381.29M239.85 446.3V383.99M247.95 447.97V385.66M256.05 449.45V387.13M264.15 427.89V375.87M272.25 429.41V377.39M280.35 429.98V377.95M288.45 432.03V380M296.55 434.1V382.07M304.65 435.08V383.05M312.75 437.5V385.47M320.85 419.91V376.31M328.95 421.96V378.36M337.05 423.67V380.07M345.15 425.14V381.53M353.25 426.6V383M361.35 426.52V382.91" stroke="#ff0000" stroke-width="1.55" fill="none"/>
<path d="M92.55 751.92H95.55M92.55 416.75H95.55M100.65 510.69H103.65M100.65 376.29H103.65M108.75 460.71H111.75M108.75 364.52H111.75M116.85 468.83H119.85M116.85 372.65H119.85M124.95 472.48H127.95M124.95 376.29H127.95M133.05 479.63H136.05M133.05 383.44H136.05M141.15 487.25H144.15M141.15 391.06H144.15M149.25 490.94H152.25M149.25 394.75H152.25M157.35 455.24H160.35M157.35 379.33H160.35M165.45 459.06H168.45M165.45 383.15H168.45M173.55 459.72H176.55M173.55 383.81H176.55M181.65 462.09H184.65M181.65 386.18H184.65M189.75 435.72H192.75M189.75 373.4H192.75M197.85 436.54H200.85M197.85 374.22H200.85M205.95 438.36H208.95M205.95 376.05H208.95M214.05 439.36H217.05M214.05 377.04H217.05M222.15 441.31H225.15M222.15 379H225.15M230.25 443.61H233.25M230.25 381.29H233.25M238.35 446.3H241.35M238.35 383.99H241.35M246.45 447.97H249.45M246.45 385.66H249.45M254.55 449.45H257.55M254.55 387.13H257.55M262.65 427.89H265.65M262.65 375.87H265.65M270.75 429.41H273.75M270.75 377.39H273.75M278.85 429.98H281.85M278.85 377.95H281.85M286.95 432.03H289.95M286.95 380H289.95M295.05 434.1H298.05M295.05 382.07H298.05M303.15 435.08H306.15M303.15 383.05H306.15M311.25 437.5H314.25M311.25 385.47H314.25M319.35 419.91H322.35M319.35 376.31H322.35M327.45 421.96H330.45M327.45 378.36H330.45M335.55 423.67H338.55M335.55 380.07H338.55M343.65 425.14H346.65M343.65 381.53H346.65M351.75 426.6H354.75M351.75 383H354.75M359.85 426.52H362.85M359.85 382.91H362.85" stroke="#ff0000" stroke-width="1.2" fill="none"/>
<path d="M94.05 475.55L102.15 419.89L110.25 400.02L118.35 408.15L126.45 411.79L134.55 418.94L142.65 426.56L150.75 430.25L158.85 409.3L166.95 413.12L175.05 413.78L183.15 416.15L191.25 399.13L199.35 399.95L207.45 401.77L215.55 402.77L223.65 404.73L231.75 407.02L239.85 409.71L247.95 411.38L256.05 412.86L264.15 398.07L272.25 399.59L280.35 400.15L288.45 402.2L296.55 404.27L304.65 405.26L312.75 407.68L320.85 395.42L328.95 397.47L337.05 399.19L345.15 400.65L353.25 402.11L361.35 402.03" stroke="#ff0000" stroke-width="1.5" fill="none" stroke-linejoin="round"/>
<path d="M118.35 531.41V330.7M126.45 535.06V334.34M134.55 542.2V341.49M142.65 549.82V349.11M150.75 553.51V352.8M158.85 557.75V357.04M166.95 398.37V322.46M175.05 399.03V323.12M183.15 401.4V325.49M191.25 403.91V328M199.35 404.74V328.83M207.45 406.56V330.65M215.55 407.55V331.64M223.65 409.51V333.6M231.75 411.81V335.9" stroke="#ff2a96" stroke-width="1.4" fill="none" stroke-dasharray="2.9,1.3"/>
<path d="M116.85 531.41H119.85M116.85 330.7H119.85M124.95 535.06H127.95M124.95 334.34H127.95M133.05 542.2H136.05M133.05 341.49H136.05M141.15 549.82H144.15M141.15 349.11H144.15M149.25 553.51H152.25M149.25 352.8H152.25M157.35 557.75H160.35M157.35 357.04H160.35M165.45 398.37H168.45M165.45 322.46H168.45M173.55 399.03H176.55M173.55 323.12H176.55M181.65 401.4H184.65M181.65 325.49H184.65M189.75 403.91H192.75M189.75 328H192.75M197.85 404.74H200.85M197.85 328.83H200.85M205.95 406.56H208.95M205.95 330.65H208.95M214.05 407.55H217.05M214.05 331.64H217.05M222.15 409.51H225.15M222.15 333.6H225.15M230.25 411.81H233.25M230.25 335.9H233.25" stroke="#ff2a96" stroke-width="1.2" fill="none"/>
<path d="M118.35 382.96L126.45 386.61L134.55 393.75L142.65 401.37L150.75 405.06L158.85 409.3L166.95 352.44L175.05 353.09L183.15 355.46L191.25 357.98L199.35 358.8L207.45 360.62L215.55 361.62L223.65 363.58L231.75 365.87L239.85 333.06L247.95 334.73L256.05 336.21L264.15 337.38L272.25 338.9L280.35 339.47L288.45 341.52L296.55 343.59L304.65 344.57L312.75 346.99L320.85 348.23L328.95 350.28L337.05 352L345.15 353.46L353.25 354.92L361.35 354.84" stroke="#ff2a96" stroke-width="1.9" fill="none" stroke-linejoin="round" stroke-dasharray="2.9,1.3"/>
<path d="M94.05 300V382.39M102.15 305V387.41M110.25 321V403.04M118.35 329V411.16M126.45 333V414.81M134.55 340V421.96M142.65 348V429.58M150.75 351V433.27M158.85 356V437.51M166.95 341V400.65M175.05 342V401.31M183.15 344V403.67M191.25 347V406.19M199.35 348V407.01M207.45 349V408.83M215.55 350V409.83M223.65 352V411.79M231.75 355V414.08M239.85 344V386.44M247.95 336V362.9M256.05 337V364.38M264.15 338V365.55M272.25 340V367.07M280.35 340V367.64M288.45 342V369.69M296.55 345V371.76M304.65 346V372.74M312.75 348V375.16M320.85 349V376.4M328.95 351V378.45M337.05 353V380.17M345.15 354V381.63M353.25 356V383.09M361.35 356V383.01" stroke="#ff00cc" stroke-width="1.3" fill="none" stroke-dasharray="1,1"/>
<path d="M92.55 382.39H95.55M92.55 300.47H95.55M100.65 387.41H103.65M100.65 305.49H103.65M108.75 403.04H111.75M108.75 321.12H111.75M116.85 411.16H119.85M116.85 329.25H119.85M124.95 414.81H127.95M124.95 332.89H127.95M133.05 421.96H136.05M133.05 340.04H136.05M141.15 429.58H144.15M141.15 347.66H144.15M149.25 433.27H152.25M149.25 351.35H152.25M157.35 437.51H160.35M157.35 355.59H160.35M165.45 400.65H168.45M165.45 341.14H168.45M173.55 401.31H176.55M173.55 341.8H176.55M181.65 403.67H184.65M181.65 344.17H184.65M189.75 406.19H192.75M189.75 346.68H192.75M197.85 407.01H200.85M197.85 347.5H200.85M205.95 408.83H208.95M205.95 349.33H208.95M214.05 409.83H217.05M214.05 350.32H217.05M222.15 411.79H225.15M222.15 352.28H225.15M230.25 414.08H233.25M230.25 354.57H233.25M238.35 386.44H241.35M238.35 343.76H241.35M246.45 362.9H249.45M246.45 335.66H249.45M254.55 364.38H257.55M254.55 337.14H257.55M262.65 365.55H265.65M262.65 338.32H265.65M270.75 367.07H273.75M270.75 339.84H273.75M278.85 367.64H281.85M278.85 340.4H281.85M286.95 369.69H289.95M286.95 342.45H289.95M295.05 371.76H298.05M295.05 344.52H298.05M303.15 372.74H306.15M303.15 345.5H306.15M311.25 375.16H314.25M311.25 347.92H314.25M319.35 376.4H322.35M319.35 349.16H322.35M327.45 378.45H330.45M327.45 351.22H330.45M335.55 380.17H338.55M335.55 352.93H338.55M343.65 381.63H346.65M343.65 354.39H346.65M351.75 383.09H354.75M351.75 355.86H354.75M359.85 383.01H362.85M359.85 355.77H362.85" stroke="#ff00cc" stroke-width="1.2" fill="none"/>
<path d="M77.85 300.89L85.95 310.79L94.05 332.18L102.15 337.2L110.25 352.83L118.35 360.95L126.45 364.6L134.55 371.75L142.65 379.37L150.75 383.06L158.85 387.3L166.95 365.93L175.05 366.59L183.15 368.96L191.25 371.47L199.35 372.3L207.45 374.12L215.55 375.11L223.65 377.07L231.75 379.37L239.85 362.52L247.95 348.23L256.05 349.71L264.15 350.88L272.25 352.4L280.35 352.96L288.45 355.01L296.55 357.08L304.65 358.07L312.75 360.49L320.85 361.73L328.95 363.78L337.05 365.49L345.15 366.95L353.25 368.42L361.35 368.33" stroke="#ff00cc" stroke-width="1.7" fill="none" stroke-linejoin="round" stroke-dasharray="1,1"/>
<path d="M77.85 455.25V324.7M85.95 465.15V334.61M94.05 421.17V328.9M102.15 426.2V333.93M110.25 441.82V349.55M118.35 449.95V357.68M126.45 453.6V361.33M134.55 420.68V349.13M142.65 428.3V356.75M150.75 431.99V360.44M158.85 436.23V364.68M166.95 410.91V353.57M175.05 411.56V354.22M183.15 413.93V356.59M191.25 416.45V359.11M199.35 417.27V359.93M207.45 419.09V361.75M215.55 420.09V362.75M223.65 422.05V364.71M231.75 424.34V367M239.85 427.03V369.69M247.95 405.61V359.35M256.05 407.08V360.82M264.15 408.26V362M272.25 409.78V363.52M280.35 410.34V364.08M288.45 412.39V366.13M296.55 414.46V368.2M304.65 396.11V359.32M312.75 398.53V361.75M320.85 399.77V362.99M328.95 401.82V365.04M337.05 403.53V366.75M345.15 404.99V368.21M353.25 406.46V369.68M361.35 406.37V369.59" stroke="#22cc22" stroke-width="1.05" fill="none" stroke-dasharray="2.5,1.8"/>
<path d="M76.35 455.25H79.35M76.35 324.7H79.35M84.45 465.15H87.45M84.45 334.61H87.45M92.55 421.17H95.55M92.55 328.9H95.55M100.65 426.2H103.65M100.65 333.93H103.65M108.75 441.82H111.75M108.75 349.55H111.75M116.85 449.95H119.85M116.85 357.68H119.85M124.95 453.6H127.95M124.95 361.33H127.95M133.05 420.68H136.05M133.05 349.13H136.05M141.15 428.3H144.15M141.15 356.75H144.15M149.25 431.99H152.25M149.25 360.44H152.25M157.35 436.23H160.35M157.35 364.68H160.35M165.45 410.91H168.45M165.45 353.57H168.45M173.55 411.56H176.55M173.55 354.22H176.55M181.65 413.93H184.65M181.65 356.59H184.65M189.75 416.45H192.75M189.75 359.11H192.75M197.85 417.27H200.85M197.85 359.93H200.85M205.95 419.09H208.95M205.95 361.75H208.95M214.05 420.09H217.05M214.05 362.75H217.05M222.15 422.05H225.15M222.15 364.71H225.15M230.25 424.34H233.25M230.25 367H233.25M238.35 427.03H241.35M238.35 369.69H241.35M246.45 405.61H249.45M246.45 359.35H249.45M254.55 407.08H257.55M254.55 360.82H257.55M262.65 408.26H265.65M262.65 362H265.65M270.75 409.78H273.75M270.75 363.52H273.75M278.85 410.34H281.85M278.85 364.08H281.85M286.95 412.39H289.95M286.95 366.13H289.95M295.05 414.46H298.05M295.05 368.2H298.05M303.15 396.11H306.15M303.15 359.32H306.15M311.25 398.53H314.25M311.25 361.75H314.25M319.35 399.77H322.35M319.35 362.99H322.35M327.45 401.82H330.45M327.45 365.04H330.45M335.55 403.53H338.55M335.55 366.75H338.55M343.65 404.99H346.65M343.65 368.21H346.65M351.75 406.46H354.75M351.75 369.68H354.75M359.85 406.37H362.85M359.85 369.59H362.85" stroke="#22cc22" stroke-width="1.2" fill="none"/>
<path d="M77.85 367.61L85.95 377.51L94.05 363.4L102.15 368.43L110.25 384.05L118.35 392.18L126.45 395.83L134.55 377.79L142.65 385.41L150.75 389.1L158.85 393.34L166.95 377.62L175.05 378.28L183.15 380.65L191.25 383.16L199.35 383.99L207.45 385.81L215.55 386.8L223.65 388.76L231.75 391.06L239.85 393.75L247.95 379.46L256.05 380.93L264.15 382.11L272.25 383.63L280.35 384.19L288.45 386.24L296.55 388.31L304.65 375.8L312.75 378.22L320.85 379.46L328.95 381.51L337.05 383.22L345.15 384.69L353.25 386.15L361.35 386.07" stroke="#22cc22" stroke-width="1.3" fill="none" stroke-linejoin="round" stroke-dasharray="2.5,1.8"/>
<path d="M75.15 370.25L80.55 370.25L77.85 364.98ZM83.25 380.15L88.65 380.15L85.95 374.88ZM91.35 366.04L96.75 366.04L94.05 360.77ZM99.45 371.06L104.85 371.06L102.15 365.8ZM107.55 386.69L112.95 386.69L110.25 381.42ZM115.65 394.82L121.05 394.82L118.35 389.55ZM123.75 398.46L129.15 398.46L126.45 393.2ZM131.85 380.42L137.25 380.42L134.55 375.16ZM139.95 388.04L145.35 388.04L142.65 382.77ZM148.05 391.73L153.45 391.73L150.75 386.47ZM156.15 395.97L161.55 395.97L158.85 390.71ZM164.25 380.26L169.65 380.26L166.95 374.99ZM172.35 380.91L177.75 380.91L175.05 375.65ZM180.45 383.28L185.85 383.28L183.15 378.02ZM188.55 385.8L193.95 385.8L191.25 380.53ZM196.65 386.62L202.05 386.62L199.35 381.35ZM204.75 388.44L210.15 388.44L207.45 383.18ZM212.85 389.44L218.25 389.44L215.55 384.17ZM220.95 391.4L226.35 391.4L223.65 386.13ZM229.05 393.69L234.45 393.69L231.75 388.43ZM237.15 396.38L242.55 396.38L239.85 391.12ZM245.25 382.09L250.65 382.09L247.95 376.82ZM253.35 383.57L258.75 383.57L256.05 378.3ZM261.45 384.74L266.85 384.74L264.15 379.48ZM269.55 386.26L274.95 386.26L272.25 381ZM277.65 386.82L283.05 386.82L280.35 381.56ZM285.75 388.87L291.15 388.87L288.45 383.61ZM293.85 390.94L299.25 390.94L296.55 385.68ZM301.95 378.43L307.35 378.43L304.65 373.17ZM310.05 380.85L315.45 380.85L312.75 375.59ZM318.15 382.09L323.55 382.09L320.85 376.83ZM326.25 384.14L331.65 384.14L328.95 378.88ZM334.35 385.86L339.75 385.86L337.05 380.59ZM342.45 387.32L347.85 387.32L345.15 382.05ZM350.55 388.78L355.95 388.78L353.25 383.52ZM358.65 388.7L364.05 388.7L361.35 383.43Z" fill="none" stroke="#22cc22" stroke-width="1.1"/>
</g>
<path d="M45.5 17.5H371M45.5 17.5V477.8M371 17.5V477.8M45.5 317.5H371" stroke="#000" stroke-width="1" fill="none"/>
<path d="M45 477.8H371.5" stroke="#000" stroke-width="1.6" fill="none"/>
<path d="M45.45 17.5v9M53.55 17.5v2.5M61.65 17.5v4.7M69.75 17.5v2.5M77.85 17.5v4.7M85.95 17.5v2.5M94.05 17.5v4.7M102.15 17.5v2.5M110.25 17.5v4.7M118.35 17.5v2.5M126.45 17.5v9M134.55 17.5v2.5M142.65 17.5v4.7M150.75 17.5v2.5M158.85 17.5v4.7M166.95 17.5v2.5M175.05 17.5v4.7M183.15 17.5v2.5M191.25 17.5v4.7M199.35 17.5v2.5M207.45 17.5v9M215.55 17.5v2.5M223.65 17.5v4.7M231.75 17.5v2.5M239.85 17.5v4.7M247.95 17.5v2.5M256.05 17.5v4.7M264.15 17.5v2.5M272.25 17.5v4.7M280.35 17.5v2.5M288.45 17.5v9M296.55 17.5v2.5M304.65 17.5v4.7M312.75 17.5v2.5M320.85 17.5v4.7M328.95 17.5v2.5M337.05 17.5v4.7M345.15 17.5v2.5M353.25 17.5v4.7M361.35 17.5v2.5M369.45 17.5v9M45.45 317.5v-9M53.55 317.5v-2.5M61.65 317.5v-4.7M69.75 317.5v-2.5M77.85 317.5v-4.7M85.95 317.5v-2.5M94.05 317.5v-4.7M102.15 317.5v-2.5M110.25 317.5v-4.7M118.35 317.5v-2.5M126.45 317.5v-9M134.55 317.5v-2.5M142.65 317.5v-4.7M150.75 317.5v-2.5M158.85 317.5v-4.7M166.95 317.5v-2.5M175.05 317.5v-4.7M183.15 317.5v-2.5M191.25 317.5v-4.7M199.35 317.5v-2.5M207.45 317.5v-9M215.55 317.5v-2.5M223.65 317.5v-4.7M231.75 317.5v-2.5M239.85 317.5v-4.7M247.95 317.5v-2.5M256.05 317.5v-4.7M264.15 317.5v-2.5M272.25 317.5v-4.7M280.35 317.5v-2.5M288.45 317.5v-9M296.55 317.5v-2.5M304.65 317.5v-4.7M312.75 317.5v-2.5M320.85 317.5v-4.7M328.95 317.5v-2.5M337.05 317.5v-4.7M345.15 317.5v-2.5M353.25 317.5v-4.7M361.35 317.5v-2.5M369.45 317.5v-9M45.45 317.5v4.5M53.55 317.5v1.3M61.65 317.5v2.4M69.75 317.5v1.3M77.85 317.5v2.4M85.95 317.5v1.3M94.05 317.5v2.4M102.15 317.5v1.3M110.25 317.5v2.4M118.35 317.5v1.3M126.45 317.5v4.5M134.55 317.5v1.3M142.65 317.5v2.4M150.75 317.5v1.3M158.85 317.5v2.4M166.95 317.5v1.3M175.05 317.5v2.4M183.15 317.5v1.3M191.25 317.5v2.4M199.35 317.5v1.3M207.45 317.5v4.5M215.55 317.5v1.3M223.65 317.5v2.4M231.75 317.5v1.3M239.85 317.5v2.4M247.95 317.5v1.3M256.05 317.5v2.4M264.15 317.5v1.3M272.25 317.5v2.4M280.35 317.5v1.3M288.45 317.5v4.5M296.55 317.5v1.3M304.65 317.5v2.4M312.75 317.5v1.3M320.85 317.5v2.4M328.95 317.5v1.3M337.05 317.5v2.4M345.15 317.5v1.3M353.25 317.5v2.4M361.35 317.5v1.3M369.45 317.5v4.5M45.45 477.8v-4.5M53.55 477.8v-1.3M61.65 477.8v-2.4M69.75 477.8v-1.3M77.85 477.8v-2.4M85.95 477.8v-1.3M94.05 477.8v-2.4M102.15 477.8v-1.3M110.25 477.8v-2.4M118.35 477.8v-1.3M126.45 477.8v-4.5M134.55 477.8v-1.3M142.65 477.8v-2.4M150.75 477.8v-1.3M158.85 477.8v-2.4M166.95 477.8v-1.3M175.05 477.8v-2.4M183.15 477.8v-1.3M191.25 477.8v-2.4M199.35 477.8v-1.3M207.45 477.8v-4.5M215.55 477.8v-1.3M223.65 477.8v-2.4M231.75 477.8v-1.3M239.85 477.8v-2.4M247.95 477.8v-1.3M256.05 477.8v-2.4M264.15 477.8v-1.3M272.25 477.8v-2.4M280.35 477.8v-1.3M288.45 477.8v-4.5M296.55 477.8v-1.3M304.65 477.8v-2.4M312.75 477.8v-1.3M320.85 477.8v-2.4M328.95 477.8v-1.3M337.05 477.8v-2.4M345.15 477.8v-1.3M353.25 477.8v-2.4M361.35 477.8v-1.3M369.45 477.8v-4.5M45.5 317.5h11M371 317.5h-11M45.5 310.77h5.5M371 310.77h-5.5M45.5 304.05h5.5M371 304.05h-5.5M45.5 297.32h5.5M371 297.32h-5.5M45.5 290.59h11M371 290.59h-11M45.5 283.86h5.5M371 283.86h-5.5M45.5 277.13h5.5M371 277.13h-5.5M45.5 270.41h5.5M371 270.41h-5.5M45.5 263.68h11M371 263.68h-11M45.5 256.95h5.5M371 256.95h-5.5M45.5 250.22h5.5M371 250.22h-5.5M45.5 243.5h5.5M371 243.5h-5.5M45.5 236.77h11M371 236.77h-11M45.5 230.04h5.5M371 230.04h-5.5M45.5 223.31h5.5M371 223.31h-5.5M45.5 216.59h5.5M371 216.59h-5.5M45.5 209.86h11M371 209.86h-11M45.5 203.13h5.5M371 203.13h-5.5M45.5 196.4h5.5M371 196.4h-5.5M45.5 189.68h5.5M371 189.68h-5.5M45.5 182.95h11M371 182.95h-11M45.5 176.22h5.5M371 176.22h-5.5M45.5 169.49h5.5M371 169.49h-5.5M45.5 162.77h5.5M371 162.77h-5.5M45.5 156.04h11M371 156.04h-11M45.5 149.31h5.5M371 149.31h-5.5M45.5 142.58h5.5M371 142.58h-5.5M45.5 135.86h5.5M371 135.86h-5.5M45.5 129.13h11M371 129.13h-11M45.5 122.4h5.5M371 122.4h-5.5M45.5 115.67h5.5M371 115.67h-5.5M45.5 108.95h5.5M371 108.95h-5.5M45.5 102.22h11M371 102.22h-11M45.5 95.49h5.5M371 95.49h-5.5M45.5 88.76h5.5M371 88.76h-5.5M45.5 82.04h5.5M371 82.04h-5.5M45.5 75.31h11M371 75.31h-11M45.5 68.58h5.5M371 68.58h-5.5M45.5 61.85h5.5M371 61.85h-5.5M45.5 55.13h5.5M371 55.13h-5.5M45.5 48.4h11M371 48.4h-11M45.5 41.67h5.5M371 41.67h-5.5M45.5 34.94h5.5M371 34.94h-5.5M45.5 28.22h5.5M371 28.22h-5.5M45.5 21.49h11M371 21.49h-11M45.5 458.29h7.4M371 458.29h-7.4M45.5 442.32h5.5M371 442.32h-5.5M45.5 428.83h5.5M371 428.83h-5.5M45.5 417.14h5.5M371 417.14h-5.5M45.5 406.82h5.5M371 406.82h-5.5M45.5 397.6h7.4M371 397.6h-7.4M45.5 389.26h5.5M371 389.26h-5.5M45.5 381.64h5.5M371 381.64h-5.5M45.5 374.63h5.5M371 374.63h-5.5M45.5 368.14h5.5M371 368.14h-5.5M45.5 362.1h5.5M371 362.1h-5.5M45.5 356.45h5.5M371 356.45h-5.5M45.5 351.14h5.5M371 351.14h-5.5M45.5 346.14h5.5M371 346.14h-5.5M45.5 341.4h5.5M371 341.4h-5.5M45.5 336.91h7.4M371 336.91h-7.4M45.5 332.64h5.5M371 332.64h-5.5M45.5 328.57h5.5M371 328.57h-5.5M45.5 324.68h5.5M371 324.68h-5.5M45.5 320.95h5.5M371 320.95h-5.5" stroke="#000" stroke-width="1" fill="none"/>
<text x="50.4" y="14" font-size="12.3">7000 GeV pp</text>
<text x="342.6" y="13.8" font-size="12">Jets</text>
<text transform="translate(16.6 82.3) rotate(-90)" font-size="12">Gap fraction</text>
<text transform="translate(17.8 396.8) rotate(-90)" font-size="9.05" text-anchor="middle">Ratio to ATLAS</text>
<text transform="translate(379.8 127.2) rotate(-90)" font-size="9.45" fill="#707070">Rivet 4.1.0, ≥ 100k events</text>
<text transform="translate(380.3 313.8) rotate(-90)" font-size="9.42" fill="#707070">mcplots.cern.ch [arXiv:2401.10621]</text>
<text x="164.8" y="301.7" font-size="8.1" fill="#999">(ATLAS_2011_I917526)</text>
<text x="58.4" y="42.9" font-size="12">Gap fraction vs Q</text>
<text x="150" y="49.6" font-size="8.4">0</text>
<text x="157.8" y="42.9" font-size="12">for 210&lt;#</text>
<text x="209" y="42.9" font-size="12">P</text>
<path d="M208.4 32.4H221" stroke="#000" stroke-width="1"/>
<text x="215.9" y="46.6" font-size="7.6">T</text>
<text x="220.8" y="42.9" font-size="12">&lt;240</text>
<text x="254.8" y="42.9" font-size="12">4&lt;|Δy|&lt;5, Fwd/Bwd</text>
<text x="93.8" y="64.95" font-size="9.4">ATLAS</text>
<text x="93.8" y="78.05" font-size="9.4">Pythia 8.315 default</text>
<text x="93.8" y="90.9" font-size="9.4">Pythia 8.315 tune-A14-CTEQL1</text>
<text x="93.8" y="103.85" font-size="9.4">Pythia 8.315 tune-A14-MSTW2008LO</text>
<text x="93.8" y="117.05" font-size="9.4">Pythia 8.315 tune-A14-NNPDF2.3LO</text>
<text x="93.8" y="130.05" font-size="9.4">Pythia 8.315 tune-CUETP8S1</text>
<rect x="73.75" y="59.5" width="5.3" height="5.3" fill="#000"/>
<path d="M64 75.2H88.8" stroke="#0000ff" stroke-width="1.2"/>
<path d="M73.9 77.73L79.1 77.73L76.5 72.67Z" fill="#0000ff"/>
<path d="M64 88.05H88.8" stroke="#ff0000" stroke-width="1.7"/>
<path d="M64 101H88.8" stroke="#ff2a96" stroke-width="1.9" stroke-dasharray="2.9,1.3"/>
<path d="M64 114.2H88.8" stroke="#ff00cc" stroke-width="1.4" stroke-dasharray="1,1"/>
<path d="M64 127.2H88.8" stroke="#22cc22" stroke-width="1.1" stroke-dasharray="2.5,1.8"/>
<path d="M73.9 129.74L79.1 129.74L76.5 124.67Z" fill="#fff" stroke="#22cc22" stroke-width="1.1"/>
<text x="45.45" y="488.8" font-size="10.6" text-anchor="middle">0</text>
<text x="126.45" y="488.8" font-size="10.6" text-anchor="middle">50</text>
<text x="207.45" y="488.8" font-size="10.6" text-anchor="middle">100</text>
<text x="288.45" y="488.8" font-size="10.6" text-anchor="middle">150</text>
<text x="369.45" y="488.8" font-size="10.6" text-anchor="middle">200</text>
<text x="38.5" y="341.11" font-size="11.6" text-anchor="end">2</text>
<text x="373.2" y="341.11" font-size="11.6">2</text>
<text x="38.5" y="401.8" font-size="11.6" text-anchor="end">1</text>
<text x="373.2" y="401.8" font-size="11.6">1</text>
<text x="38.5" y="462.49" font-size="11.6" text-anchor="end">0.5</text>
<text x="373.2" y="462.49" font-size="11.6">0.5</text>
<text x="322.6" y="502.4" font-size="12.3">Q</text>
<text x="331.6" y="507" font-size="8.6">0</text>
<text x="340.8" y="502.4" font-size="12.3">[GeV]</text>
</svg></body></html>
